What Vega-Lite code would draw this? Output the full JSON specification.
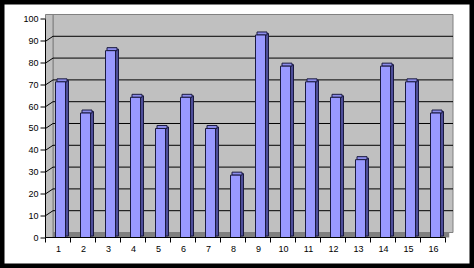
{
  "$schema": "https://vega.github.io/schema/vega-lite/v6.json",
  "width": 474,
  "height": 268,
  "padding": 0,
  "autosize": {"type": "none"},
  "background": "white",
  "config": {
    "view": {"stroke": "black", "strokeWidth": 9, "fill": "white"},
    "axis": {"labelFont": "Liberation Sans", "labelFontSize": 9, "labelColor": "black", "tickColor": "black", "grid": false, "domain": false}
  },
  "datasets": {
    "bars": [
      {"cat": 1, "value": 71.4},
      {"cat": 2, "value": 57.1},
      {"cat": 3, "value": 85.7},
      {"cat": 4, "value": 64.3},
      {"cat": 5, "value": 50},
      {"cat": 6, "value": 64.3},
      {"cat": 7, "value": 50},
      {"cat": 8, "value": 28.6},
      {"cat": 9, "value": 92.9},
      {"cat": 10, "value": 78.6},
      {"cat": 11, "value": 71.4},
      {"cat": 12, "value": 64.3},
      {"cat": 13, "value": 35.7},
      {"cat": 14, "value": 78.6},
      {"cat": 15, "value": 71.4},
      {"cat": 16, "value": 57.1}
    ],
    "levels": [
      {"level": 10}, {"level": 20}, {"level": 30}, {"level": 40}, {"level": 50},
      {"level": 60}, {"level": 70}, {"level": 80}, {"level": 90}
    ]
  },
  "layer": [
    {
      "data": {"values": [{}]},
      "mark": {"type": "rect", "fill": "#808080", "xOffset": 3.75, "x2Offset": 3.75, "y2Offset": -5},
      "encoding": {
        "x": {"datum": 0.5, "type": "quantitative", "title": null, "scale": {"domain": [-1.32, 17.64], "nice": false, "zero": false},
              "axis": {"orient": "bottom", "offset": -31, "values": [0, 1, 2, 3, 4, 5, 6, 7, 8, 9, 10, 11, 12, 13, 14, 15, 16], "tickOffset": 12, "labelOffset": -12, "tickSize": 5, "labelPadding": 2, "format": "d", "labelExpr": "datum.value == 0 ? '' : datum.label", "labelOverlap": false, "labelFlush": false, "labelBound": false, "domain": false, "grid": false, "title": null, "zindex": 1}},
        "x2": {"datum": 16.5},
        "y": {"datum": 0, "type": "quantitative", "title": null, "scale": {"domain": [-13.99, 108.94], "nice": false, "zero": false},
              "axis": {"orient": "left", "offset": -45.5, "translate": 0, "values": [0, 10, 20, 30, 40, 50, 60, 70, 80, 90, 100], "tickSize": 5, "labelPadding": 2, "format": "d", "labelOverlap": false, "labelFlush": false, "labelBound": false, "domain": false, "grid": false, "title": null, "zindex": 1}},
        "y2": {"datum": 0}
      }
    },
    {
      "data": {"values": [{}]},
      "mark": {"type": "rect", "fill": "#C0C0C0", "stroke": "#808080", "strokeWidth": 1, "xOffset": 7.5, "x2Offset": 7.5, "yOffset": -5, "y2Offset": -5},
      "encoding": {
        "x": {"datum": 0.5, "type": "quantitative", "title": null, "scale": {"domain": [-1.32, 17.64], "nice": false, "zero": false},
              "axis": {"orient": "bottom", "offset": -31, "values": [0, 1, 2, 3, 4, 5, 6, 7, 8, 9, 10, 11, 12, 13, 14, 15, 16], "tickOffset": 12, "labelOffset": -12, "tickSize": 5, "labelPadding": 2, "format": "d", "labelExpr": "datum.value == 0 ? '' : datum.label", "labelOverlap": false, "labelFlush": false, "labelBound": false, "domain": false, "grid": false, "title": null, "zindex": 1}},
        "x2": {"datum": 16.5},
        "y": {"datum": 0, "type": "quantitative", "title": null, "scale": {"domain": [-13.99, 108.94], "nice": false, "zero": false},
              "axis": {"orient": "left", "offset": -45.5, "translate": 0, "values": [0, 10, 20, 30, 40, 50, 60, 70, 80, 90, 100], "tickSize": 5, "labelPadding": 2, "format": "d", "labelOverlap": false, "labelFlush": false, "labelBound": false, "domain": false, "grid": false, "title": null, "zindex": 1}},
        "y2": {"datum": 100}
      }
    },
    {
      "data": {"values": [{}]},
      "mark": {"type": "rect", "fill": "#C0C0C0", "stroke": "#808080", "strokeWidth": 1, "x2Offset": 7.5, "y2Offset": -5},
      "encoding": {
        "x": {"datum": 0.5, "type": "quantitative", "title": null, "scale": {"domain": [-1.32, 17.64], "nice": false, "zero": false},
              "axis": {"orient": "bottom", "offset": -31, "values": [0, 1, 2, 3, 4, 5, 6, 7, 8, 9, 10, 11, 12, 13, 14, 15, 16], "tickOffset": 12, "labelOffset": -12, "tickSize": 5, "labelPadding": 2, "format": "d", "labelExpr": "datum.value == 0 ? '' : datum.label", "labelOverlap": false, "labelFlush": false, "labelBound": false, "domain": false, "grid": false, "title": null, "zindex": 1}},
        "x2": {"datum": 0.5},
        "y": {"datum": 0, "type": "quantitative", "title": null, "scale": {"domain": [-13.99, 108.94], "nice": false, "zero": false},
              "axis": {"orient": "left", "offset": -45.5, "translate": 0, "values": [0, 10, 20, 30, 40, 50, 60, 70, 80, 90, 100], "tickSize": 5, "labelPadding": 2, "format": "d", "labelOverlap": false, "labelFlush": false, "labelBound": false, "domain": false, "grid": false, "title": null, "zindex": 1}},
        "y2": {"datum": 100}
      }
    },
    {
      "data": {"name": "levels"},
      "mark": {"type": "rule", "color": "black", "strokeWidth": 1, "xOffset": 7.5, "x2Offset": 7.5, "yOffset": -5},
      "encoding": {
        "x": {"datum": 0.5, "type": "quantitative", "title": null, "scale": {"domain": [-1.32, 17.64], "nice": false, "zero": false},
              "axis": {"orient": "bottom", "offset": -31, "values": [0, 1, 2, 3, 4, 5, 6, 7, 8, 9, 10, 11, 12, 13, 14, 15, 16], "tickOffset": 12, "labelOffset": -12, "tickSize": 5, "labelPadding": 2, "format": "d", "labelExpr": "datum.value == 0 ? '' : datum.label", "labelOverlap": false, "labelFlush": false, "labelBound": false, "domain": false, "grid": false, "title": null, "zindex": 1}},
        "x2": {"datum": 16.5},
        "y": {"field": "level", "type": "quantitative", "title": null, "scale": {"domain": [-13.99, 108.94], "nice": false, "zero": false},
              "axis": {"orient": "left", "offset": -45.5, "translate": 0, "values": [0, 10, 20, 30, 40, 50, 60, 70, 80, 90, 100], "tickSize": 5, "labelPadding": 2, "format": "d", "labelOverlap": false, "labelFlush": false, "labelBound": false, "domain": false, "grid": false, "title": null, "zindex": 1}}
      }
    },
    {
      "data": {"name": "levels"},
      "mark": {"type": "rule", "color": "black", "strokeWidth": 1, "x2Offset": 7.5, "y2Offset": -5},
      "encoding": {
        "x": {"datum": 0.5, "type": "quantitative", "title": null, "scale": {"domain": [-1.32, 17.64], "nice": false, "zero": false},
              "axis": {"orient": "bottom", "offset": -31, "values": [0, 1, 2, 3, 4, 5, 6, 7, 8, 9, 10, 11, 12, 13, 14, 15, 16], "tickOffset": 12, "labelOffset": -12, "tickSize": 5, "labelPadding": 2, "format": "d", "labelExpr": "datum.value == 0 ? '' : datum.label", "labelOverlap": false, "labelFlush": false, "labelBound": false, "domain": false, "grid": false, "title": null, "zindex": 1}},
        "x2": {"datum": 0.5},
        "y": {"field": "level", "type": "quantitative", "title": null, "scale": {"domain": [-13.99, 108.94], "nice": false, "zero": false},
              "axis": {"orient": "left", "offset": -45.5, "translate": 0, "values": [0, 10, 20, 30, 40, 50, 60, 70, 80, 90, 100], "tickSize": 5, "labelPadding": 2, "format": "d", "labelOverlap": false, "labelFlush": false, "labelBound": false, "domain": false, "grid": false, "title": null, "zindex": 1}},
        "y2": {"field": "level"}
      }
    },
    {
      "data": {"name": "bars"},
      "mark": {"type": "rect", "fill": "#4D4D99", "stroke": "#1A1A40", "strokeWidth": 1, "xOffset": 7.5, "x2Offset": 10.5, "yOffset": -1.5, "y2Offset": -1.5},
      "encoding": {
        "x": {"field": "cat", "type": "quantitative", "title": null, "scale": {"domain": [-1.32, 17.64], "nice": false, "zero": false},
              "axis": {"orient": "bottom", "offset": -31, "values": [0, 1, 2, 3, 4, 5, 6, 7, 8, 9, 10, 11, 12, 13, 14, 15, 16], "tickOffset": 12, "labelOffset": -12, "tickSize": 5, "labelPadding": 2, "format": "d", "labelExpr": "datum.value == 0 ? '' : datum.label", "labelOverlap": false, "labelFlush": false, "labelBound": false, "domain": false, "grid": false, "title": null, "zindex": 1}},
        "x2": {"field": "cat"},
        "y": {"field": "value", "type": "quantitative", "title": null, "scale": {"domain": [-13.99, 108.94], "nice": false, "zero": false},
              "axis": {"orient": "left", "offset": -45.5, "translate": 0, "values": [0, 10, 20, 30, 40, 50, 60, 70, 80, 90, 100], "tickSize": 5, "labelPadding": 2, "format": "d", "labelOverlap": false, "labelFlush": false, "labelBound": false, "domain": false, "grid": false, "title": null, "zindex": 1}},
        "y2": {"datum": 0}
      }
    },
    {
      "data": {"name": "bars"},
      "mark": {"type": "rect", "fill": "#8C8CEB", "stroke": "#1A1A40", "strokeWidth": 1, "xOffset": -1, "x2Offset": 9, "yOffset": -3, "y2Offset": 0},
      "encoding": {
        "x": {"field": "cat", "type": "quantitative", "title": null, "scale": {"domain": [-1.32, 17.64], "nice": false, "zero": false},
              "axis": {"orient": "bottom", "offset": -31, "values": [0, 1, 2, 3, 4, 5, 6, 7, 8, 9, 10, 11, 12, 13, 14, 15, 16], "tickOffset": 12, "labelOffset": -12, "tickSize": 5, "labelPadding": 2, "format": "d", "labelExpr": "datum.value == 0 ? '' : datum.label", "labelOverlap": false, "labelFlush": false, "labelBound": false, "domain": false, "grid": false, "title": null, "zindex": 1}},
        "x2": {"field": "cat"},
        "y": {"field": "value", "type": "quantitative", "title": null, "scale": {"domain": [-13.99, 108.94], "nice": false, "zero": false},
              "axis": {"orient": "left", "offset": -45.5, "translate": 0, "values": [0, 10, 20, 30, 40, 50, 60, 70, 80, 90, 100], "tickSize": 5, "labelPadding": 2, "format": "d", "labelOverlap": false, "labelFlush": false, "labelBound": false, "domain": false, "grid": false, "title": null, "zindex": 1}},
        "y2": {"field": "value"}
      }
    },
    {
      "data": {"name": "bars"},
      "mark": {"type": "rect", "fill": "#9999FF", "stroke": "#1A1A40", "strokeWidth": 1, "xOffset": -2.5, "x2Offset": 7.5},
      "encoding": {
        "x": {"field": "cat", "type": "quantitative", "title": null, "scale": {"domain": [-1.32, 17.64], "nice": false, "zero": false},
              "axis": {"orient": "bottom", "offset": -31, "values": [0, 1, 2, 3, 4, 5, 6, 7, 8, 9, 10, 11, 12, 13, 14, 15, 16], "tickOffset": 12, "labelOffset": -12, "tickSize": 5, "labelPadding": 2, "format": "d", "labelExpr": "datum.value == 0 ? '' : datum.label", "labelOverlap": false, "labelFlush": false, "labelBound": false, "domain": false, "grid": false, "title": null, "zindex": 1}},
        "x2": {"field": "cat"},
        "y": {"field": "value", "type": "quantitative", "title": null, "scale": {"domain": [-13.99, 108.94], "nice": false, "zero": false},
              "axis": {"orient": "left", "offset": -45.5, "translate": 0, "values": [0, 10, 20, 30, 40, 50, 60, 70, 80, 90, 100], "tickSize": 5, "labelPadding": 2, "format": "d", "labelOverlap": false, "labelFlush": false, "labelBound": false, "domain": false, "grid": false, "title": null, "zindex": 1}},
        "y2": {"datum": 0}
      }
    },
    {
      "data": {"values": [{}]},
      "mark": {"type": "rule", "color": "black", "strokeWidth": 1},
      "encoding": {
        "x": {"datum": 0.5, "type": "quantitative", "title": null, "scale": {"domain": [-1.32, 17.64], "nice": false, "zero": false},
              "axis": {"orient": "bottom", "offset": -31, "values": [0, 1, 2, 3, 4, 5, 6, 7, 8, 9, 10, 11, 12, 13, 14, 15, 16], "tickOffset": 12, "labelOffset": -12, "tickSize": 5, "labelPadding": 2, "format": "d", "labelExpr": "datum.value == 0 ? '' : datum.label", "labelOverlap": false, "labelFlush": false, "labelBound": false, "domain": false, "grid": false, "title": null, "zindex": 1}},
        "y": {"datum": 0, "type": "quantitative", "title": null, "scale": {"domain": [-13.99, 108.94], "nice": false, "zero": false},
              "axis": {"orient": "left", "offset": -45.5, "translate": 0, "values": [0, 10, 20, 30, 40, 50, 60, 70, 80, 90, 100], "tickSize": 5, "labelPadding": 2, "format": "d", "labelOverlap": false, "labelFlush": false, "labelBound": false, "domain": false, "grid": false, "title": null, "zindex": 1}},
        "y2": {"datum": 100}
      }
    },
    {
      "data": {"values": [{}]},
      "mark": {"type": "rule", "color": "black", "strokeWidth": 1},
      "encoding": {
        "x": {"datum": 0.5, "type": "quantitative", "title": null, "scale": {"domain": [-1.32, 17.64], "nice": false, "zero": false},
              "axis": {"orient": "bottom", "offset": -31, "values": [0, 1, 2, 3, 4, 5, 6, 7, 8, 9, 10, 11, 12, 13, 14, 15, 16], "tickOffset": 12, "labelOffset": -12, "tickSize": 5, "labelPadding": 2, "format": "d", "labelExpr": "datum.value == 0 ? '' : datum.label", "labelOverlap": false, "labelFlush": false, "labelBound": false, "domain": false, "grid": false, "title": null, "zindex": 1}},
        "x2": {"datum": 16.5},
        "y": {"datum": 0, "type": "quantitative", "title": null, "scale": {"domain": [-13.99, 108.94], "nice": false, "zero": false},
              "axis": {"orient": "left", "offset": -45.5, "translate": 0, "values": [0, 10, 20, 30, 40, 50, 60, 70, 80, 90, 100], "tickSize": 5, "labelPadding": 2, "format": "d", "labelOverlap": false, "labelFlush": false, "labelBound": false, "domain": false, "grid": false, "title": null, "zindex": 1}}
      }
    }
  ]
}
